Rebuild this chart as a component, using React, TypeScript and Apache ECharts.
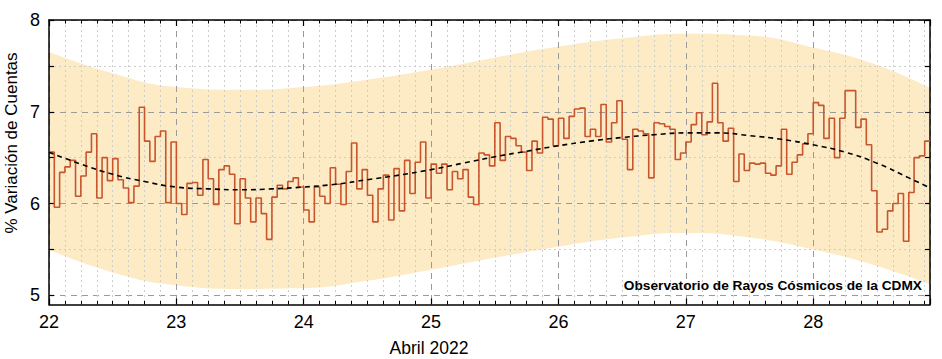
import React, { useEffect, useRef } from "react";
import * as echarts from "echarts";

// ---- Data ----
const startDay = 22;
const hoursPerDay = 24;

const day22 = [6.56, 5.96, 6.34, 6.40, 6.47, 6.08, 6.30, 6.56, 6.76, 6.06, 6.50, 6.25, 6.49, 6.26, 6.17, 6.01, 6.19, 7.05, 6.68, 6.46, 6.73, 6.79, 6.01, 6.67];
const day23 = [6.00, 5.88, 6.22, 6.23, 6.09, 6.48, 6.27, 5.99, 6.37, 6.41, 6.32, 5.78, 6.27, 6.06, 5.80, 6.06, 5.89, 5.61, 6.07, 6.20, 6.16, 6.24, 6.28, 6.18];
const day24 = [5.93, 5.80, 6.18, 6.08, 6.00, 6.39, 6.21, 5.99, 6.35, 6.66, 6.16, 6.37, 6.09, 5.80, 6.16, 6.31, 5.82, 6.38, 5.92, 6.47, 6.11, 6.45, 6.67, 6.06];
const day25 = [6.43, 6.33, 6.43, 6.15, 6.35, 6.27, 6.37, 6.07, 5.99, 6.55, 6.53, 6.41, 6.88, 6.47, 6.73, 6.71, 6.63, 6.56, 6.36, 6.68, 6.55, 6.94, 6.92, 6.63];
const day26 = [6.93, 6.71, 6.95, 7.03, 7.04, 6.73, 6.81, 6.73, 7.08, 6.67, 6.88, 7.12, 6.70, 6.37, 6.81, 6.79, 6.76, 6.28, 6.88, 6.87, 6.84, 6.81, 6.48, 6.55];
const day27 = [6.67, 6.86, 6.99, 6.75, 6.89, 7.31, 6.88, 6.68, 6.82, 6.24, 6.54, 6.36, 6.44, 6.43, 6.44, 6.33, 6.31, 6.41, 6.81, 6.32, 6.45, 6.53, 6.65, 6.76];
const day28 = [7.10, 7.07, 6.71, 6.93, 6.50, 6.93, 7.23, 7.23, 6.83, 6.92, 6.64, 6.14, 5.69, 5.72, 5.92, 6.00, 6.11, 5.59, 6.12, 6.50, 6.52, 6.68];

const fitX = [22.0, 22.25, 22.5, 22.75, 23.0, 23.25, 23.5, 23.75, 24.0, 24.25, 24.5, 24.75, 25.0, 25.25, 25.5, 25.75, 26.0, 26.25, 26.5, 26.75, 27.0, 27.25, 27.5, 27.75, 28.0, 28.25, 28.5, 28.75, 28.9167];
const fitY = [6.56, 6.43, 6.32, 6.24, 6.18, 6.16, 6.15, 6.16, 6.18, 6.21, 6.26, 6.31, 6.37, 6.44, 6.51, 6.57, 6.63, 6.68, 6.72, 6.75, 6.77, 6.77, 6.74, 6.70, 6.64, 6.56, 6.44, 6.28, 6.17];

const bandX = [22.0, 22.5, 23.0, 23.5, 24.0, 24.5, 25.0, 25.5, 26.0, 26.5, 27.0, 27.5, 28.0, 28.5, 28.9167];
const bandUpper = [7.65, 7.42, 7.27, 7.24, 7.27, 7.35, 7.46, 7.59, 7.71, 7.80, 7.85, 7.83, 7.70, 7.51, 7.26];
const bandLower = [5.50, 5.25, 5.11, 5.07, 5.08, 5.16, 5.28, 5.41, 5.53, 5.63, 5.68, 5.63, 5.50, 5.32, 5.12];

const yMajorTicks = [5, 6, 7, 8];
const yMinorTicks = [5.5, 6.5, 7.5];
const yAllTicks = [5, 5.5, 6, 6.5, 7, 7.5, 8];

const FONT = "'Liberation Sans', Arial, Helvetica, sans-serif";

export default function App() {
  const ref = useRef<HTMLDivElement>(null);

  useEffect(() => {
    if (!ref.current) return;
    const chart = echarts.init(ref.current, null, { renderer: "svg" });

    const hourly = [...day22, ...day23, ...day24, ...day25, ...day26, ...day27, ...day28];
    const xMax = startDay + hourly.length / hoursPerDay;
    const stepData: number[][] = hourly.map((v, i) => [startDay + i / hoursPerDay, v]);
    stepData.push([xMax, hourly[hourly.length - 1]]);

    const fitData = fitX.map((x, i) => [x, fitY[i]]);
    const upperData = bandX.map((x, i) => [x, bandUpper[i]]);
    const lowerData = bandX.map((x, i) => [x, bandLower[i]]);

    const axisBlack = { color: "#000", width: 1.5 };

    chart.setOption({
      animation: false,
      grid: { left: 49, right: 12, top: 20, bottom: 54.5, containLabel: false, outerBoundsMode: "none" },
      xAxis: [
        {
          type: "value",
          position: "bottom",
          min: startDay,
          max: xMax,
          interval: 1,
          z: 3,
          axisLine: { show: true, onZero: false, lineStyle: axisBlack },
          axisTick: { show: true, inside: true, length: 6, lineStyle: { color: "#000", width: 1.2 } },
          minorTick: { show: true, splitNumber: 8, length: 3.5, lineStyle: { color: "#000", width: 1 } },
          axisLabel: { show: true, fontSize: 18, color: "#000", margin: 8, fontFamily: FONT, showMaxLabel: false, showMinLabel: true },
          splitLine: { show: true, lineStyle: { color: "#9a9a9a", type: [6, 5], width: 1 } },
          minorSplitLine: { show: true, lineStyle: { color: "#cdcdcd", type: [2, 3], width: 1 } },
        },
        {
          type: "value",
          position: "top",
          min: startDay,
          max: xMax,
          interval: 1,
          z: 3,
          axisLine: { show: true, onZero: false, lineStyle: axisBlack },
          axisTick: { show: true, inside: true, length: 6, lineStyle: { color: "#000", width: 1.2 } },
          minorTick: { show: true, splitNumber: 8, length: 3.5, lineStyle: { color: "#000", width: 1 } },
          axisLabel: { show: false },
          splitLine: { show: false },
        },
      ],
      yAxis: [
        {
          type: "value",
          position: "left",
          min: 4.9,
          max: 8,
          z: 3,
          axisLine: { show: true, onZero: false, lineStyle: axisBlack },
          axisTick: { show: true, inside: true, length: 5, customValues: yMajorTicks, lineStyle: { color: "#000", width: 1.2 } },
          axisLabel: { show: true, customValues: yMajorTicks, fontSize: 18, color: "#000", margin: 9, fontFamily: FONT },
          splitLine: { show: true, lineStyle: { color: "#9a9a9a", type: [6, 5], width: 1 } },
        },
        {
          type: "value",
          position: "left",
          min: 4.9,
          max: 8,
          z: 3,
          axisLine: { show: false },
          axisTick: { show: true, inside: true, length: 5, customValues: yMinorTicks, lineStyle: { color: "#000", width: 1.2 } },
          axisLabel: { show: false, customValues: yMinorTicks },
          splitLine: { show: true, lineStyle: { color: "#cdcdcd", type: [2, 3], width: 1 } },
        },
        {
          type: "value",
          position: "right",
          min: 4.9,
          max: 8,
          z: 3,
          axisLine: { show: true, onZero: false, lineStyle: axisBlack },
          axisTick: { show: true, inside: true, length: 5, customValues: yAllTicks, lineStyle: { color: "#000", width: 1.2 } },
          axisLabel: { show: false, customValues: yAllTicks },
          splitLine: { show: false },
        },
      ],
      series: [
        {
          name: "upper",
          type: "line",
          data: upperData,
          smooth: true,
          symbol: "none",
          silent: true,
          z: 1,
          lineStyle: { width: 0, opacity: 0 },
          areaStyle: { color: "#fdebc6", opacity: 1, origin: "start" },
        },
        {
          name: "lower",
          type: "line",
          data: lowerData,
          smooth: true,
          symbol: "none",
          silent: true,
          z: 2,
          lineStyle: { width: 0, opacity: 0 },
          areaStyle: { color: "#ffffff", opacity: 1, origin: "start" },
        },
        {
          name: "fit",
          type: "line",
          data: fitData,
          smooth: true,
          symbol: "none",
          z: 6,
          lineStyle: { color: "#000", width: 1.6, type: [5, 4] },
        },
        {
          name: "cuentas",
          type: "line",
          data: stepData,
          step: "end",
          symbol: "none",
          z: 5,
          lineStyle: { color: "#c8552d", width: 1.6 },
        },
      ],
      graphic: [
        {
          type: "text",
          x: 11,
          y: 143,
          rotation: Math.PI / 2,
          style: { text: "% Variación de Cuentas", fontSize: 17, fill: "#000", align: "center", verticalAlign: "middle", fontFamily: FONT },
        },
        {
          type: "text",
          x: 429,
          y: 348,
          style: { text: "Abril 2022", fontSize: 17.5, fill: "#000", align: "center", verticalAlign: "middle", fontFamily: FONT },
        },
        {
          type: "text",
          x: 922,
          y: 285,
          z: 10,
          style: { text: "Observatorio de Rayos Cósmicos de la CDMX", fontSize: 13.7, fontWeight: "bold", fill: "#000", align: "right", verticalAlign: "middle", fontFamily: FONT },
        },
      ],
    });

    return () => chart.dispose();
  }, []);

  return <div ref={ref} style={{ position: "absolute", left: 0, top: 0, width: 942, height: 359 }} />;
}
